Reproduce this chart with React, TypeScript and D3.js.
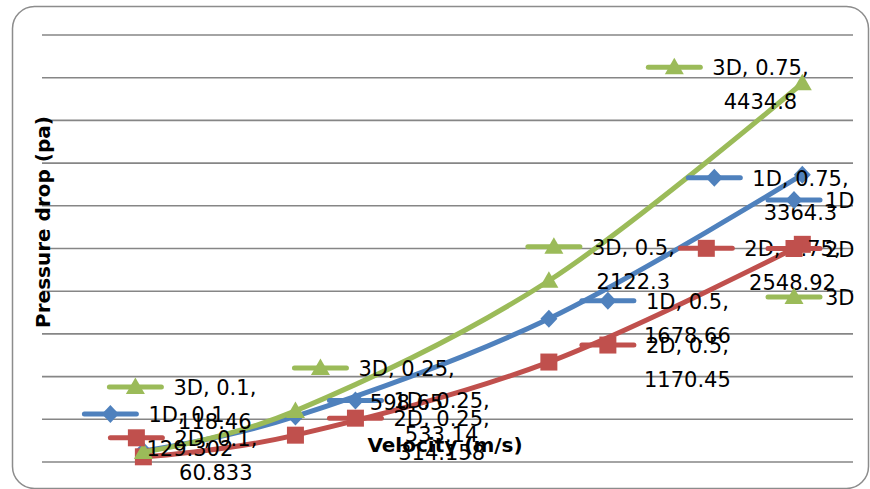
import React, { useEffect, useRef } from "react";
import * as d3 from "d3";

// Velocity values (m/s) shared by every series
const velocities = [0.1, 0.25, 0.5, 0.75];
// Pressure drop (Pa) per model
const drop1D = [129.302, 533.14, 1678.66, 3364.3];
const drop2D = [60.833, 314.158, 1170.45, 2548.92];
const drop3D = [118.46, 598.65, 2122.3, 4434.8];
const seriesNames = ["1D", "2D", "3D"];
const gridValues = [0, 500, 1000, 1500, 2000, 2500, 3000, 3500, 4000, 4500, 5000];

const xTitle = "Velocity (m/s)";
const yTitle = "Pressure drop (pa)";

// Label placement: key centre offset from its point, in pixels
const labelOffsets: [number, number][][] = [
  [[-33, -37], [60, -16], [59, -18], [-88, 3]],
  [[-7, -19], [60, -17], [59, -17], [-96, 4]],
  [[-8, -65], [25, -43], [5, -34], [-128, -16]],
];

const W = 870;
const H = 489;
const colors = ["#4F81BD", "#C0504D", "#9BBB59"];
const FONT = "'DejaVu Sans', sans-serif";

// marker outlines centred on the origin
const markerPaths = [
  "M0,-9L8.5,0L0,9L-8.5,0Z", // diamond
  "M-8.5,-8.5H8.5V8.5H-8.5Z", // square
  "M0,-9.5L9.5,7L-9.5,7Z", // triangle
];

export default function App() {
  const ref = useRef<SVGSVGElement | null>(null);

  useEffect(() => {
    const svg = d3.select(ref.current);
    svg.selectAll("*").remove();

    const x = d3.scaleLinear().domain([0, 0.8]).range([42, 853]);
    const y = d3.scaleLinear().domain([0, 5000]).range([462, 35]);

    const series = [drop1D, drop2D, drop3D].map((vals, i) => ({
      name: seriesNames[i],
      color: colors[i],
      marker: markerPaths[i],
      points: vals.map((v, j) => ({ x: velocities[j], v })),
    }));

    // outer chart frame
    svg
      .append("rect")
      .attr("x", 12.5)
      .attr("y", 6.5)
      .attr("width", 856)
      .attr("height", 482)
      .attr("rx", 22)
      .attr("fill", "#fff")
      .attr("stroke", "#8c8c8c")
      .attr("stroke-width", 1.5);

    // horizontal gridlines
    svg
      .append("g")
      .selectAll("line")
      .data(gridValues)
      .join("line")
      .attr("x1", x(0))
      .attr("x2", x(0.8))
      .attr("y1", (d) => y(d))
      .attr("y2", (d) => y(d))
      .attr("stroke", "#868686")
      .attr("stroke-width", 1.6);

    const line = d3
      .line<{ x: number; v: number }>()
      .x((d) => x(d.x))
      .y((d) => y(d.v))
      .curve(d3.curveCardinal.tension(0));

    series.forEach((s) => {
      svg
        .append("path")
        .attr("d", line(s.points))
        .attr("fill", "none")
        .attr("stroke", s.color)
        .attr("stroke-width", 5)
        .attr("stroke-linecap", "round");
      svg
        .append("g")
        .selectAll("path")
        .data(s.points)
        .join("path")
        .attr("d", s.marker)
        .attr("transform", (d) => `translate(${x(d.x)},${y(d.v)})`)
        .attr("fill", s.color);
    });

    // legend key: short line with the series marker in the middle
    const drawKey = (g: any, s: any, cx: number, cy: number) => {
      g.append("line")
        .attr("x1", cx - 26)
        .attr("x2", cx + 26)
        .attr("y1", cy)
        .attr("y2", cy)
        .attr("stroke", s.color)
        .attr("stroke-width", 5)
        .attr("stroke-linecap", "round");
      g.append("path")
        .attr("d", s.marker)
        .attr("transform", `translate(${cx},${cy})`)
        .attr("fill", s.color);
    };

    // data labels
    const labels = svg.append("g");
    series.forEach((s, i) => {
      s.points.forEach((p, j) => {
        const [dx, dy] = labelOffsets[i][j];
        const kx = x(p.x) + dx;
        const ky = y(p.v) + dy;
        const g = labels.append("g");
        drawKey(g, s, kx, ky);
        const t1 = g
          .append("text")
          .attr("x", kx + 38)
          .attr("y", ky + 8)
          .attr("font-family", FONT)
          .attr("font-size", 21)
          .attr("fill", "#000")
          .text(`${s.name}, ${p.x},`);
        const w1 = (t1.node() as SVGTextElement).getComputedTextLength();
        g.append("text")
          .attr("x", kx + 38 + w1 / 2)
          .attr("y", ky + 42)
          .attr("text-anchor", "middle")
          .attr("font-family", FONT)
          .attr("font-size", 21)
          .attr("fill", "#000")
          .text(String(p.v));
      });
    });

    // series legend
    const legend = svg.append("g");
    series.forEach((s, i) => {
      const cy = 200 + i * 48.5;
      drawKey(legend, s, 794, cy);
      legend
        .append("text")
        .attr("x", 825)
        .attr("y", cy + 8)
        .attr("font-family", FONT)
        .attr("font-size", 21)
        .attr("fill", "#000")
        .text(s.name);
    });

    // axis titles
    svg
      .append("text")
      .attr("x", 445)
      .attr("y", 452)
      .attr("text-anchor", "middle")
      .attr("font-family", FONT)
      .attr("font-weight", "bold")
      .attr("font-size", 20)
      .attr("fill", "#000")
      .text(xTitle);
    svg
      .append("text")
      .attr("transform", `translate(50,222) rotate(-90)`)
      .attr("text-anchor", "middle")
      .attr("font-family", FONT)
      .attr("font-weight", "bold")
      .attr("font-size", 20)
      .attr("fill", "#000")
      .text(yTitle);
  }, []);

  return (
    <svg
      ref={ref}
      width={W}
      height={H}
      style={{ position: "absolute", left: 0, top: 0, background: "#fff" }}
    />
  );
}
